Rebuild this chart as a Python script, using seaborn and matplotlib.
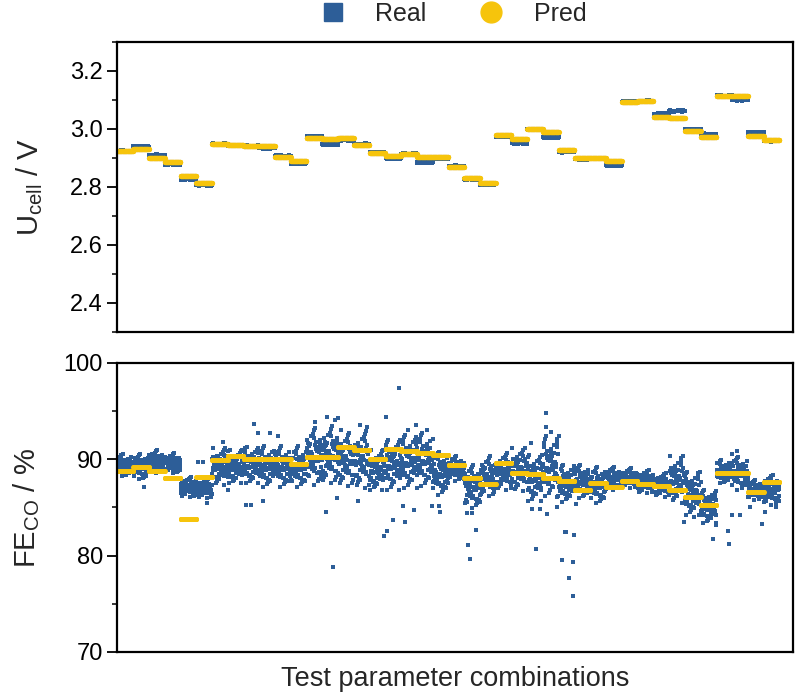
import numpy as np
import pandas as pd
import matplotlib
matplotlib.use("Agg")
import matplotlib.pyplot as plt
import seaborn as sns
from matplotlib.lines import Line2D
from matplotlib.ticker import AutoMinorLocator

# ---------------- data ----------------
N_PER = 60  # samples drawn per parameter combination

# Cell voltage per test parameter combination
U_real = [2.924, 2.939, 2.910, 2.879, 2.827, 2.807, 2.948, 2.943, 2.941, 2.934,
          2.907, 2.882, 2.974, 2.947, 2.962, 2.948, 2.918, 2.899, 2.914, 2.885,
          2.899, 2.872, 2.827, 2.809, 2.974, 2.951, 2.999, 2.971, 2.921, 2.896,
          2.899, 2.874, 3.094, 3.096, 3.052, 3.062, 2.999, 2.982, 3.114, 3.100,
          2.988, 2.959]
U_pred = [2.924, 2.930, 2.901, 2.885, 2.838, 2.813, 2.948, 2.945, 2.941, 2.941,
          2.902, 2.891, 2.968, 2.964, 2.969, 2.944, 2.916, 2.908, 2.914, 2.903,
          2.903, 2.868, 2.832, 2.813, 2.979, 2.964, 3.001, 2.990, 2.928, 2.899,
          2.901, 2.888, 3.092, 3.096, 3.040, 3.037, 2.993, 2.974, 3.114, 3.114,
          2.977, 2.962]
U_spread = 0.0012

# Faradaic efficiency CO per combination
FE_pred = [88.75, 89.2, 88.75, 88.06, 83.8, 88.2, 89.95, 90.35, 90.0, 90.0,
           90.0, 89.55, 90.2, 90.2, 91.3, 91.0, 90.0, 91.1, 90.9, 90.65,
           90.4, 89.45, 88.06, 87.4, 89.65, 88.6, 88.45, 88.1, 87.8, 86.8,
           87.5, 87.1, 87.7, 87.4, 87.2, 86.85, 86.1, 85.3, 88.6, 88.6,
           86.6, 87.65]
FE_real_center = [89.38, 89.2, 89.72, 89.55, 87.13, 86.95, 89.2, 89.2, 89.38, 89.2,
                  89.2, 89.2, 90.24, 90.4, 89.9, 89.9, 88.86, 89.38, 89.72, 89.9,
                  88.5, 89.03, 87.13, 88.17, 88.69, 88.86, 88.0, 89.2, 87.47, 87.65,
                  87.3, 88.0, 88.0, 87.65, 87.3, 87.82, 86.44, 85.05, 88.69, 88.5,
                  86.78, 86.78]
FE_real_spread = [0.56, 0.65, 0.6, 0.52, 0.52, 0.48, 0.95, 0.87, 0.95, 1.04,
                  1.04, 1.04, 1.47, 1.47, 1.38, 1.47, 1.04, 1.3, 1.38, 1.38,
                  1.12, 0.65, 1.12, 1.04, 0.95, 1.12, 1.21, 1.56, 0.95, 0.87,
                  0.95, 0.6, 0.52, 0.6, 0.6, 1.21, 1.12, 0.87, 0.6, 0.87,
                  0.52, 0.78]
# hand-typed scatter pattern (standard units) for the measured cloud
JITTER = [0.12, -0.85, 1.34, -0.27, 0.63, -1.52, 0.05, 0.91, -0.44, 1.88,
          -0.09, -1.13, 0.37, 0.76, -0.66, 0.21, -1.95, 1.05, -0.31, 0.48,
          -0.72, 1.47, 0.02, -0.98, 0.59, -0.18, 1.21, -1.36, 0.29, -0.55,
          0.84, -0.04, -1.71, 0.67, 0.15, -0.38, 1.62, -0.81, 0.44, -1.07,
          0.97, -0.23, 0.33, -0.61, 2.05, -0.14, 0.71, -1.25]
# isolated measured points: (position in combination units, FE value)
OUT_POS = [17.87, 13.65, 16.90, 17.11, 17.47, 18.23, 18.10, 18.80, 8.16, 8.48,
           9.22, 13.23, 13.29, 8.67, 17.03, 18.92, 13.80, 15.25, 19.94, 20.38,
           20.44, 5.70, 1.65, 13.92, 7.03, 27.15, 27.18, 27.51, 26.25, 22.23,
           22.39, 22.72, 22.15, 26.56, 26.27, 26.77, 27.22, 28.21, 28.40, 28.63,
           28.88, 28.95, 28.90, 29.09, 27.89, 37.78, 38.80, 38.75, 38.99, 39.49,
           40.11, 40.91, 41.08, 41.75, 35.95, 36.58, 37.96, 37.85, 27.91, 28.46,
           12.5, 14.0, 15.4, 15.8, 8.9, 9.7, 10.2, 6.7, 14.2, 19.6,
           18.4, 39.0, 39.3, 5.1, 5.4, 22.5, 37.9]
OUT_FE = [97.4, 78.8, 82.0, 82.6, 83.7, 83.5, 85.2, 84.7, 85.3, 85.3,
          85.7, 84.5, 94.4, 93.7, 94.4, 93.6, 94.1, 85.7, 85.2, 85.2,
          84.5, 85.5, 87.1, 86.0, 86.8, 94.8, 93.4, 92.8, 91.7, 81.1,
          79.7, 82.7, 84.4, 80.7, 84.8, 84.8, 84.3, 79.6, 82.5, 77.7,
          79.3, 82.1, 75.8, 85.4, 85.0, 81.7, 81.2, 82.6, 84.2, 84.2,
          85.0, 83.3, 84.5, 85.0, 83.5, 84.0, 83.2, 86.3, 86.1, 82.5,
          93.9, 94.3, 93.6, 93.4, 92.7, 92.7, 92.4, 91.8, 93.0, 93.0,
          93.0, 90.6, 90.9, 89.7, 89.7, 84.4, 84.6]

BLUE = "#2D5E98"
YELLOW = "#F6C40C"

# ---------------- tables ----------------
rows_u, rows_fe = [], []
for k in range(len(U_real)):
    for j in range(N_PER):
        x = k * N_PER + j
        jit = JITTER[(j * 7 + k * 13) % len(JITTER)]
        rows_u.append({"x": x, "real": U_real[k] + U_spread * jit, "pred": U_pred[k]})
        rows_fe.append({"x": x,
                        "real": FE_real_center[k] + FE_real_spread[k] * jit,
                        "pred": FE_pred[k]})
df_u = pd.DataFrame(rows_u)
df_fe = pd.DataFrame(rows_fe)
df_out = pd.DataFrame({"x": [p * N_PER for p in OUT_POS], "real": OUT_FE})

# ---------------- figure ----------------
sns.set_style("ticks")
plt.rcParams["font.family"] = ["Liberation Sans", "DejaVu Sans"]
plt.rcParams["axes.linewidth"] = 1.6

fig = plt.figure(figsize=(7.97, 6.95), dpi=100)
ax1 = fig.add_axes([0.1468, 0.5223, 0.8482, 0.4173])
ax2 = fig.add_axes([0.1468, 0.0619, 0.8482, 0.4158])

sns.scatterplot(data=df_u, x="x", y="real", ax=ax1, marker="s", s=7,
                color=BLUE, linewidth=0, legend=False)
sns.scatterplot(data=df_u, x="x", y="pred", ax=ax1, marker="o", s=14,
                color=YELLOW, linewidth=0, legend=False)

sns.scatterplot(data=df_fe, x="x", y="real", ax=ax2, marker="s", s=6,
                color=BLUE, linewidth=0, legend=False)
sns.scatterplot(data=df_out, x="x", y="real", ax=ax2, marker="s", s=6,
                color=BLUE, linewidth=0, legend=False)
sns.scatterplot(data=df_fe, x="x", y="pred", ax=ax2, marker="o", s=13,
                color=YELLOW, linewidth=0, legend=False)

xmax = 42.85 * N_PER
for ax in (ax1, ax2):
    ax.set_xlim(-2, xmax)
    ax.set_xticks([])
    ax.set_xlabel("")
    for sp in ax.spines.values():
        sp.set_visible(True)
        sp.set_linewidth(1.6)
        sp.set_color("black")
    ax.tick_params(axis="y", which="major", direction="out", length=7, width=1.3,
                   labelsize=17, colors="black", pad=3)
    ax.tick_params(axis="y", which="minor", direction="out", length=3.8, width=1.3)
    ax.yaxis.set_minor_locator(AutoMinorLocator(2))

ax1.set_ylim(2.3, 3.3)
ax1.set_yticks([2.4, 2.6, 2.8, 3.0, 3.2])
ax1.set_yticklabels(["2.4", "2.6", "2.8", "3.0", "3.2"])
ax1.set_ylabel(r"U$_\mathregular{cell}$ / V", fontsize=21, labelpad=18)

ax2.set_ylim(70, 100)
ax2.set_yticks([70, 80, 90, 100])
ax2.set_ylabel(r"FE$_\mathregular{CO}$ / %", fontsize=21, labelpad=16)
ax2.set_xlabel("Test parameter combinations", fontsize=19.5, labelpad=10)

handles = [Line2D([], [], marker="s", color=BLUE, linestyle="none", markersize=13),
           Line2D([], [], marker="o", color=YELLOW, linestyle="none", markersize=15)]
fig.legend(handles, ["Real", "Pred"], loc="upper center", bbox_to_anchor=(0.561, 1.03),
           ncol=2, frameon=False, fontsize=18, handletextpad=0.7, columnspacing=1.6)

fig.savefig("out.png", dpi=100)
